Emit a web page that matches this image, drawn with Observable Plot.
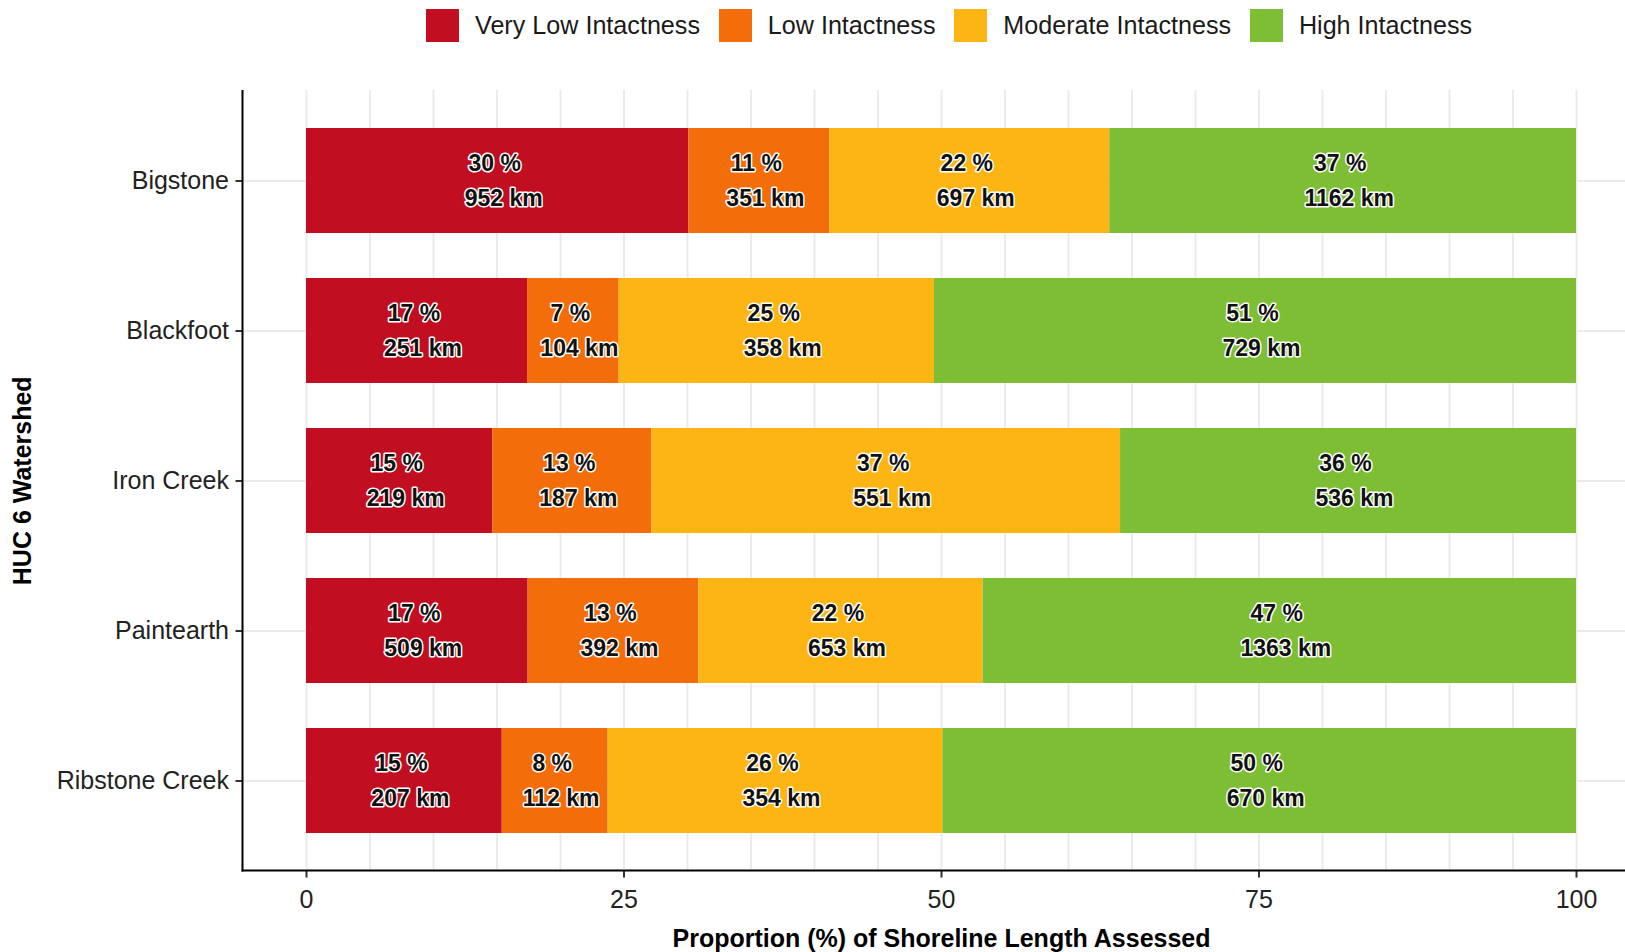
<!DOCTYPE html>
<html><head><meta charset="utf-8">
<script src="https://cdn.jsdelivr.net/npm/d3@7"></script>
<script src="https://cdn.jsdelivr.net/npm/@observablehq/plot@0.6"></script>
<style>
html,body{margin:0;padding:0;background:#fff;overflow:hidden;}
#legend{height:50px;display:flex;align-items:center;padding-left:426px;font-family:"Liberation Sans",Arial,sans-serif;font-size:25.15px;color:#1a1a1a;}
.item{display:flex;align-items:center;margin-right:18.8px;}
.sw{width:33px;height:33px;margin-right:16px;}
</style></head><body>
<div id="legend"></div><div id="chart"></div>
<script>
const watersheds = ["Bigstone", "Blackfoot", "Iron Creek", "Paintearth", "Ribstone Creek"];
const classes = ["Very Low Intactness", "Low Intactness", "Moderate Intactness", "High Intactness"];
const colors = ["#c20e21", "#f46d0b", "#fdb514", "#7dbe35"];
const kmVeryLow = [952, 251, 219, 509, 207];
const kmLow = [351, 104, 187, 392, 112];
const kmModerate = [697, 358, 551, 653, 354];
const kmHigh = [1162, 729, 536, 1363, 670];
const pctVeryLow = [30, 17, 15, 17, 15];
const pctLow = [11, 7, 13, 13, 8];
const pctModerate = [22, 25, 37, 22, 26];
const pctHigh = [37, 51, 36, 47, 50];
const xTicks = [0, 25, 50, 75, 100];
const gridTicks = [0, 5, 10, 15, 20, 25, 30, 35, 40, 45, 50, 55, 60, 65, 70, 75, 80, 85, 90, 95, 100];
const xLabel = "Proportion (%) of Shoreline Length Assessed";
const yLabel = "HUC 6 Watershed";

const kmByClass = [kmVeryLow, kmLow, kmModerate, kmHigh];
const pctByClass = [pctVeryLow, pctLow, pctModerate, pctHigh];
const rows = [];
watersheds.forEach((w, i) => classes.forEach((c, j) => rows.push({watershed: w, cls: c, km: kmByClass[j][i], pct: pctByClass[j][i]})));

// legend
const leg = document.getElementById("legend");
classes.forEach((c, j) => {
  const it = document.createElement("div"); it.className = "item";
  const sw = document.createElement("div"); sw.className = "sw"; sw.style.background = colors[j];
  const tx = document.createElement("span"); tx.textContent = c;
  it.appendChild(sw); it.appendChild(tx); leg.appendChild(it);
});

const FONT = '"Liberation Sans", Arial, Helvetica, sans-serif';

function axisLines(index, scales, values, dims) {
  const g = d3.create("svg:g");
  const x0 = dims.marginLeft, x1 = dims.width - dims.marginRight;
  const y0 = dims.marginTop, y1 = dims.height - dims.marginBottom;
  g.append("line").attr("x1", x0).attr("x2", x0).attr("y1", y0).attr("y2", y1 + 1)
    .attr("stroke", "black").attr("stroke-width", 2);
  g.append("line").attr("x1", x0 - 1).attr("x2", x1).attr("y1", y1).attr("y2", y1)
    .attr("stroke", "black").attr("stroke-width", 2);
  return g.node();
}

const stackOpts = {offset: "normalize", x: "km", y: "watershed", z: "cls", order: classes};
const labelStyle = {fill: "#111", stroke: "white", strokeWidth: 3, paintOrder: "stroke", fontWeight: "bold", fontSize: 23};

const chart = Plot.plot({
  width: 1625, height: 902,
  marginTop: 40, marginBottom: 81.4, marginLeft: 242.5, marginRight: -14.5,
  style: {fontFamily: FONT, fontSize: "25px", color: "#222", background: "white", overflow: "visible"},
  x: {domain: [-0.05, 1.05], ticks: xTicks.map(d => d / 100), tickFormat: d => String(Math.round(d * 100)),
      tickSize: 7, tickPadding: 12, label: xLabel, labelArrow: "none", labelAnchor: "center", labelOffset: 76},
  y: {domain: watersheds, paddingInner: 0.3, paddingOuter: 0.25, tickSize: 7, tickPadding: 7,
      label: yLabel, labelArrow: "none", labelAnchor: "center", labelOffset: 230},
  color: {domain: classes, range: colors},
  marks: [
    Plot.ruleX(gridTicks, {x: d => d / 100, stroke: "#ebebeb", strokeWidth: 2}),
    Plot.ruleY(watersheds, {y: d => d, stroke: "#ebebeb", strokeWidth: 2}),
    Plot.barX(rows, Plot.stackX({...stackOpts, fill: "cls"})),
    Plot.text(rows, Plot.stackX({...stackOpts, text: d => d.pct + " %", dx: -3, dy: -17, ...labelStyle})),
    Plot.text(rows, Plot.stackX({...stackOpts, text: d => d.km + " km", dx: 6, dy: 17.5, ...labelStyle})),
    axisLines
  ]
});
document.getElementById("chart").appendChild(chart);
d3.select(chart).selectAll("text").each(function() {
  const t = this.textContent.trim();
  if (t.startsWith("Proportion") || t.startsWith("HUC")) d3.select(this).attr("font-weight", "bold").attr("fill", "black");
});
d3.select(chart).selectAll('g[aria-label*="axis"] line, g[aria-label*="axis"] path').attr("stroke-width", 2).attr("stroke", "#333");
</script>
</body></html>
